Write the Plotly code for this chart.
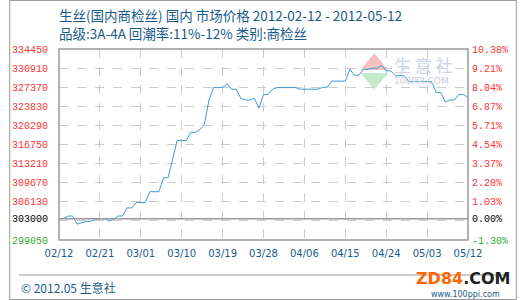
import pandas as pd
import plotly.graph_objects as go

# ---------------- data ----------------
START, END = "2012-02-12", "2012-05-12"
dates = pd.date_range(START, END, freq="D")

price = [
    303000, 303000, 303500, 303500, 302000, 302250, 302500, 302500, 302870, 303000,
    303000, 302600, 302870, 303500, 303500, 305000, 305000, 306000, 306000, 306000,
    308000, 308000, 308000, 310600, 310600, 314000, 317500, 317500, 317500, 319000,
    319000, 319500, 320500, 325000, 327300, 327300, 327300, 328000, 327000, 327000,
    325300, 325000, 325000, 325300, 323500, 326000, 326000, 327000, 327300, 327300,
    327300, 327300, 327300, 327000, 327000, 327000, 327000, 327000, 327350, 327350,
    328500, 328500, 328500, 328500, 330700, 329600, 329600, 330700, 330700, 330900,
    330900, 331400, 330400, 330400, 329500, 329500, 329500, 328400, 328400, 328400,
    328400, 328400, 328400, 326400, 326400, 324600, 325000, 325000, 326000, 326000,
    325500,
]

BASE = 303000
Y_MIN, Y_MAX = 299050, 334450
left_ticks = [334450, 330910, 327370, 323830, 320290, 316750, 313210, 309670, 306130, 302590, 299050, BASE]
left_text = ["334450", "330910", "327370", "323830", "320290", "316750", "313210", "309670", "306130", "", "299050", "303000"]
right_text = ["10.38%", "9.21%", "8.04%", "6.87%", "5.71%", "4.54%", "3.37%", "2.20%", "1.03%", "", "-1.30%", "0.00%"]

x_tick_idx = list(range(0, len(dates), 9))
x_tick_text = [dates[i].strftime("%m/%d") for i in x_tick_idx]

# ---------------- style ----------------
RED, GREEN, BLACK = "#ff3333", "#33aa33", "#000000"
BLUE_TXT = "#185c8c"
LINE = "#3a9ad9"


def colorize(vals, texts):
    out = []
    for v, t in zip(vals, texts):
        c = BLACK if v == BASE else (RED if v > BASE else GREEN)
        out.append(f"<span style='color:{c}'>{t}</span>" if t else "")
    return out


W, H = 520, 300
L, R, T, B = 51, 50, 49, 60
pw, ph = W - L - R, H - T - B


def px(xp):
    return (xp - L) / pw


def py(yp):
    return (H - B - yp) / ph


fig = go.Figure()
fig.add_trace(go.Scatter(x=dates, y=price, mode="lines",
                         line=dict(color=LINE, width=1, shape="linear"),
                         hoverinfo="skip", showlegend=False))
fig.add_trace(go.Scatter(x=dates, y=price, mode="lines", yaxis="y2",
                         line=dict(width=0), opacity=0,
                         hoverinfo="skip", showlegend=False))

TICKFONT = dict(family="Liberation Mono", size=10)

fig.update_layout(
    width=W, height=H,
    margin=dict(l=L, r=R, t=T, b=B),
    paper_bgcolor="white", plot_bgcolor="white",
    font=dict(family="DejaVu Sans", size=10),
    xaxis=dict(range=[dates[0], dates[-1]], tickvals=[dates[i] for i in x_tick_idx],
               ticktext=x_tick_text, showgrid=True, gridcolor="#cccccc", griddash="dash",
               gridwidth=1, zeroline=False, showline=False, ticks="",
               tickfont=dict(family="DejaVu Sans", size=10, color=BLUE_TXT),
               ticklabelstandoff=6),
    yaxis=dict(range=[Y_MIN, Y_MAX], tickvals=left_ticks, ticktext=colorize(left_ticks, left_text),
               showgrid=True, gridcolor="#cccccc", griddash="dash", gridwidth=1,
               zeroline=False, showline=False, ticks="",
               tickfont=TICKFONT, ticklabelstandoff=10),
    yaxis2=dict(range=[Y_MIN, Y_MAX], overlaying="y", side="right",
                tickvals=left_ticks, ticktext=colorize(left_ticks, right_text),
                showgrid=False, zeroline=False, showline=False, ticks="",
                tickfont=TICKFONT, ticklabelstandoff=3),
)

shapes = [
    # base line
    dict(type="line", xref="paper", yref="y", x0=0, x1=1, y0=BASE, y1=BASE,
         line=dict(color="#999999", width=1.5)),
    # plot frame
    dict(type="rect", xref="paper", yref="paper", x0=0, x1=1, y0=0, y1=1,
         line=dict(color="#999999", width=1.5)),
    # outer border
    dict(type="rect", xref="paper", yref="paper", x0=px(0.5), x1=px(519.5), y0=py(299.5), y1=py(0.5),
         line=dict(color="#999999", width=1)),
    # footer line
    dict(type="line", xref="paper", yref="paper", x0=px(10), x1=px(510), y0=py(275), y1=py(275),
         line=dict(color="#999999", width=1)),
    # watermark triangles
    dict(type="path", xref="paper", yref="paper", layer="below",
         path=f"M {px(360)} {py(70)} L {px(388)} {py(70)} L {px(374)} {py(53)} Z",
         fillcolor="#f7c0c0", line=dict(width=0)),
    dict(type="path", xref="paper", yref="paper", layer="below",
         path=f"M {px(360)} {py(73)} L {px(388)} {py(73)} L {px(374)} {py(90)} Z",
         fillcolor="#c6ebcb", line=dict(width=0)),
]
fig.update_layout(shapes=shapes)

ann = [
    dict(text="生丝(国内商检丝) 国内 市场价格 2012-02-12 - 2012-05-12", x=px(49), y=py(15),
         font=dict(size=13.5, color=BLUE_TXT, family="Noto Sans CJK SC")),
    dict(text="品级:3A-4A 回潮率:11%-12% 类别:商检丝", x=px(49), y=py(33),
         font=dict(size=13.5, color=BLUE_TXT, family="Noto Sans CJK SC")),
    dict(text="© 2012.05 生意社", x=px(10), y=py(287),
         font=dict(size=12, color=BLUE_TXT, family="Noto Sans CJK SC")),
    dict(text="www.100ppi.com", x=px(430), y=py(294),
         font=dict(size=8, color=BLUE_TXT, family="DejaVu Sans")),
    dict(text="<b><span style='color:#ff6600'>ZD84</span><span style='color:#222222'>.COM</span></b>",
         x=px(415), y=py(278), font=dict(size=16, family="DejaVu Sans")),
    # watermark
    dict(text="生 意 社", x=px(392), y=py(64),
         font=dict(size=17, color="#c9d4e8", family="Noto Sans CJK SC")),
    dict(text="100PPI.COM", x=px(392), y=py(81),
         font=dict(size=9, color="#c9cdd4", family="DejaVu Sans")),
]
for a in ann:
    a.update(xref="paper", yref="paper", xanchor="left", yanchor="middle", showarrow=False)
fig.update_layout(annotations=ann)

fig.write_html("out.html")
